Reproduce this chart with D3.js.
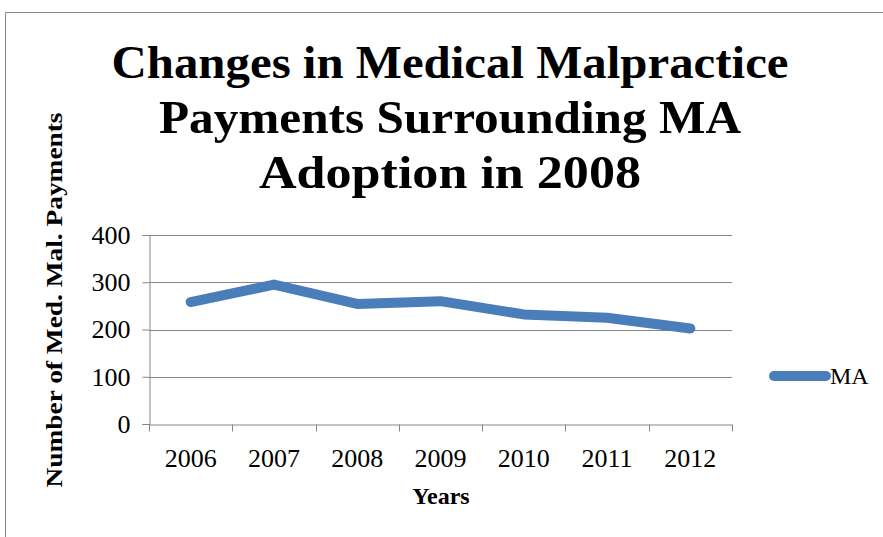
<!DOCTYPE html>
<html>
<head>
<meta charset="utf-8">
<script src="https://cdn.jsdelivr.net/npm/d3@7"></script>
<style>
  body { margin: 0; background: #fff; }
  svg { display: block; font-family: "Liberation Serif", "DejaVu Serif", serif; }
</style>
</head>
<body>
<svg width="883" height="537"></svg>
<script>
var years = ["2006", "2007", "2008", "2009", "2010", "2011", "2012"];
var maPayments = [258, 295, 254, 260, 232, 225, 202];
var yTicks = [0, 100, 200, 300, 400];
var titleLines = ["Changes in Medical Malpractice", "Payments Surrounding MA", "Adoption in 2008"];

var svg = d3.select("svg"),
    width = +svg.attr("width"),
    height = +svg.attr("height");

var gridColor = "#868686",
    lineColor = "#4a7ebb";

// chart frame
svg.append("path")
    .attr("d", "M5.5," + height + "V12.5H" + width)
    .attr("fill", "none")
    .attr("stroke", gridColor)
    .attr("stroke-width", 1);

var plot = {left: 149, right: 732, top: 235, bottom: 424};

var x = d3.scaleBand()
    .domain(years)
    .range([plot.left, plot.right]);

var y = d3.scaleLinear()
    .domain([0, 400])
    .range([plot.bottom, plot.top]);

// title
var titleWidths = [677, 582, 382];
svg.append("g").selectAll("text")
    .data(titleLines)
  .enter().append("text")
    .attr("x", 450)
    .attr("y", function(d, i) { return 78 + i * 55; })
    .attr("text-anchor", "middle")
    .attr("font-size", 47)
    .attr("font-weight", "bold")
    .attr("textLength", function(d, i) { return titleWidths[i]; })
    .attr("lengthAdjust", "spacingAndGlyphs")
    .text(function(d) { return d; });

// gridlines
svg.append("g")
  .selectAll("line")
    .data(yTicks.slice(1))
  .enter().append("line")
    .attr("x1", plot.left)
    .attr("x2", plot.right)
    .attr("y1", function(d) { return Math.round(y(d)) + 0.5; })
    .attr("y2", function(d) { return Math.round(y(d)) + 0.5; })
    .attr("stroke", gridColor);

// y axis
var yAxis = svg.append("g")
    .attr("transform", "translate(" + (plot.left + 0.5) + ",0)")
    .call(d3.axisLeft(y).tickValues(yTicks).tickSize(7).tickPadding(12));

// x axis
var xAxis = svg.append("g")
    .attr("transform", "translate(0," + (plot.bottom + 0.5) + ")")
    .call(d3.axisBottom(x).tickSize(0).tickPadding(24));

xAxis.selectAll(".tick-mark")
    .data(d3.range(years.length + 1))
  .enter().append("line")
    .attr("class", "tick-mark")
    .attr("x1", function(d) { return Math.round(plot.left + d * x.step()) + 0.5; })
    .attr("x2", function(d) { return Math.round(plot.left + d * x.step()) + 0.5; })
    .attr("y1", 0)
    .attr("y2", 7)
    .attr("stroke", gridColor);

[yAxis, xAxis].forEach(function(a) {
  a.select(".domain").attr("stroke", gridColor);
  a.selectAll(".tick line").attr("stroke", gridColor);
  a.selectAll("text")
      .attr("font-family", "Liberation Serif, DejaVu Serif, serif")
      .attr("font-size", 26)
      .attr("fill", "#000");
});

// series line
var line = d3.line()
    .x(function(d, i) { return x(years[i]) + x.bandwidth() / 2; })
    .y(function(d) { return y(d); });

svg.append("path")
    .datum(maPayments)
    .attr("d", line)
    .attr("fill", "none")
    .attr("stroke", lineColor)
    .attr("stroke-width", 10)
    .attr("stroke-linecap", "round")
    .attr("stroke-linejoin", "round");

// axis titles
svg.append("text")
    .attr("x", 441)
    .attr("y", 504)
    .attr("text-anchor", "middle")
    .attr("font-size", 24)
    .attr("font-weight", "bold")
    .text("Years");

svg.append("text")
    .attr("transform", "translate(62,300) rotate(-90)")
    .attr("text-anchor", "middle")
    .attr("font-size", 24)
    .attr("font-weight", "bold")
    .attr("textLength", 375)
    .attr("lengthAdjust", "spacingAndGlyphs")
    .text("Number of Med. Mal. Payments");

// legend
var legend = svg.append("g")
    .attr("transform", "translate(774,376)");

legend.append("line")
    .attr("x1", 0)
    .attr("x2", 52)
    .attr("stroke", lineColor)
    .attr("stroke-width", 10)
    .attr("stroke-linecap", "round");

legend.append("text")
    .attr("x", 56)
    .attr("y", 8)
    .attr("font-size", 24)
    .text("MA");
</script>
</body>
</html>
